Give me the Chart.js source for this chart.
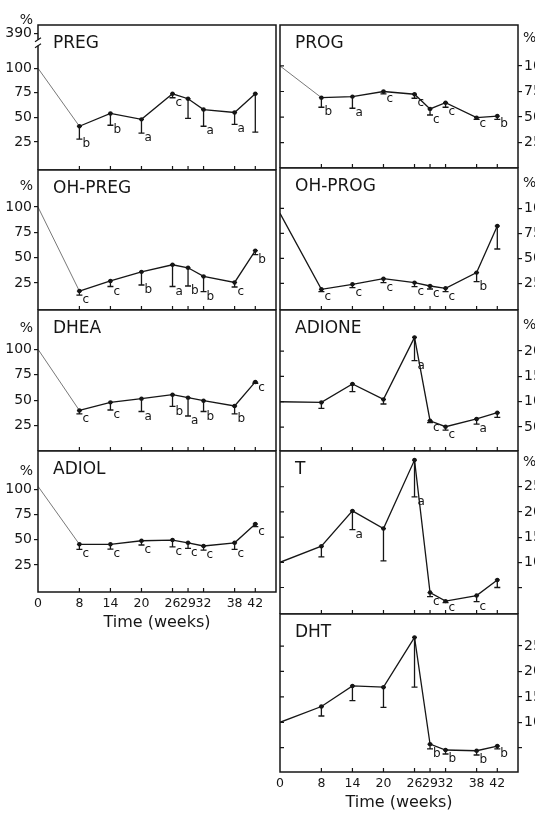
<!DOCTYPE html>
<html>
<head>
<meta charset="utf-8">
<script src="https://cdn.jsdelivr.net/npm/chart.js@4.4.1/dist/chart.umd.min.js"></script>
<style>
  html, body { margin: 0; padding: 0; background: #fff; overflow: hidden; }
  body { width: 535px; height: 813px; position: relative; }
  canvas { position: absolute; }
</style>
</head>
<body>
<script>
// sampling times
var weeks = [0, 8, 14, 20, 26, 29, 32, 38, 42];

// mean (% of initial), lower end of error bar, significance letter
var pregMean = [100, 41, 54, 48, 74, 69, 58, 55, 74];
var pregLow  = [null, 28, 42, 34, 70, 49, 41, 43, 35];
var pregSig  = ['', 'b', 'b', 'a', 'c', '', 'a', 'a', ''];

var ohPregMean = [100, 17, 27, 36, 43, 40, 31.5, 25.5, 57];
var ohPregLow  = [null, 13, 21.5, 23, 21.5, 22, 16.5, 21, 53];
var ohPregSig  = ['', 'c', 'c', 'b', 'a', 'b', 'b', 'c', 'b'];

var dheaMean = [100, 40, 48, 51.6, 55.5, 52.6, 49.6, 44.4, 68];
var dheaLow  = [null, 36.6, 40.5, 39, 44, 34.6, 39, 36.6, 66.7];
var dheaSig  = ['', 'c', 'c', 'a', 'b', 'a', 'b', 'b', 'c'];

var adiolMean = [103, 45.5, 45.5, 49, 49.7, 47, 43.8, 47, 65.6];
var adiolLow  = [null, 40.5, 40.8, 44.8, 43, 41.5, 39.8, 40.5, 63];
var adiolSig  = ['', 'c', 'c', 'c', 'c', 'c', 'c', 'c', 'c'];

var progMean = [100, 69, 70, 75, 72.3, 58, 64, 49.4, 51];
var progLow  = [null, 59.6, 58.6, 72.6, 68.4, 52, 59.6, 47.8, 47.8];
var progSig  = ['', 'b', 'a', 'c', 'c', 'c', 'c', 'c', 'b'];

var ohProgMean = [95, 19, 24, 29.6, 25.7, 22.3, 20, 35.7, 82.3];
var ohProgLow  = [null, 16.7, 20.7, 25.7, 21.7, 19.3, 16.7, 26.7, 59.3];
var ohProgSig  = ['', 'c', 'c', 'c', 'c', 'c', 'c', 'b', ''];

var adioneMean = [100, 98.7, 135, 104.6, 227, 62.5, 50.7, 66, 78.3];
var adioneLow  = [null, 87, 120, 95.5, 181, 58.6, 44, 56, 69];
var adioneSig  = ['', '', '', '', 'a', 'c', 'c', 'a', ''];

var tMean = [100, 132, 202, 167, 303, 40, 23, 34, 65];
var tLow  = [null, 111, 165, 103, 230, 32, 20, 22, 50];
var tSig  = ['', '', 'a', '', 'a', 'c', 'c', 'c', ''];

var dhtMean = [100, 131, 171.5, 169, 267, 57, 45.5, 44, 53.3];
var dhtLow  = [null, 112.4, 142.5, 129.5, 169, 47.5, 37.6, 35.6, 47.5];
var dhtSig  = ['', '', '', '', '', 'b', 'b', 'b', 'b'];

// y tick values and their labels
var pctTicks = [25, 50, 75, 100];
var pctTickLabels = ['25', '50', '75', '100'];
var pregTicks = [25, 50, 75, 100, 135];
var pregTickLabels = ['25', '50', '75', '100', '390'];
var adioneTicks = [50, 100, 150, 200];
var adioneTickLabels = ['50', '100', '150', '200'];
var highTicks = [50, 100, 150, 200, 250];
var highTickLabels = ['', '100', '150', '200', '250'];

var fontFamily = "'DejaVu Sans', 'Liberation Sans', sans-serif";
var ink = '#161616';

var panels = [
  { name: 'PREG', mean: pregMean, low: pregLow, sig: pregSig, ticks: pregTicks, labels: pregTickLabels,
    left: true, top: 25, bottom: 170, yMin: -3.5, yMax: 144, pct: 149, thin: true, brk: 126 },
  { name: 'OH-PREG', mean: ohPregMean, low: ohPregLow, sig: ohPregSig, ticks: pctTicks, labels: pctTickLabels,
    left: true, top: 170, bottom: 310, yMin: -1.7, yMax: 136.6, pct: 120.4, thin: true },
  { name: 'DHEA', mean: dheaMean, low: dheaLow, sig: dheaSig, ticks: pctTicks, labels: pctTickLabels,
    left: true, top: 310, bottom: 451, yMin: 0.3, yMax: 138.5, pct: 120.6, thin: true },
  { name: 'ADIOL', mean: adiolMean, low: adiolLow, sig: adiolSig, ticks: pctTicks, labels: pctTickLabels,
    left: true, top: 451, bottom: 592, yMin: -1.8, yMax: 138, pct: 117.5, thin: true, last: true },
  { name: 'PROG', mean: progMean, low: progLow, sig: progSig, ticks: pctTicks, labels: pctTickLabels,
    left: false, top: 25, bottom: 168, yMin: 0.2, yMax: 140, pct: 127, thin: true },
  { name: 'OH-PROG', mean: ohProgMean, low: ohProgLow, sig: ohProgSig, ticks: pctTicks, labels: pctTickLabels,
    left: false, top: 168, bottom: 310, yMin: -1.7, yMax: 140.3, pct: 125 },
  { name: 'ADIONE', mean: adioneMean, low: adioneLow, sig: adioneSig, ticks: adioneTicks, labels: adioneTickLabels,
    left: false, top: 310, bottom: 451, yMin: 2.8, yMax: 281, pct: 251 },
  { name: 'T', mean: tMean, low: tLow, sig: tSig, ticks: highTicks, labels: highTickLabels,
    left: false, top: 451, bottom: 614, yMin: -2.6, yMax: 321, pct: 298 },
  { name: 'DHT', mean: dhtMean, low: dhtLow, sig: dhtSig, ticks: highTicks, labels: highTickLabels,
    left: false, top: 614, bottom: 772, yMin: 2.2, yMax: 313, last: true }
];

// frame, inner ticks, error bars, letters and panel names
var decor = {
  id: 'decor',
  afterDatasetsDraw: function (chart) {
    var p = chart.options.plugins.decor.panel;
    var ctx = chart.ctx, a = chart.chartArea;
    var xs = chart.scales.x, ys = chart.scales.y;
    ctx.save();
    ctx.strokeStyle = ink;
    ctx.fillStyle = ink;

    // error bars
    ctx.lineWidth = 1.3;
    ctx.beginPath();
    weeks.forEach(function (w, i) {
      if (p.low[i] == null) return;
      var px = xs.getPixelForValue(w);
      var pm = ys.getPixelForValue(p.mean[i]);
      var pl = ys.getPixelForValue(p.low[i]);
      ctx.moveTo(px, pm); ctx.lineTo(px, pl);
      ctx.moveTo(px - 3, pl); ctx.lineTo(px + 3, pl);
      ctx.moveTo(px - 2.5, pm); ctx.lineTo(px + 2.5, pm);
    });
    ctx.stroke();

    // letters
    ctx.font = '12px ' + fontFamily;
    ctx.textAlign = 'left';
    ctx.textBaseline = 'middle';
    weeks.forEach(function (w, i) {
      if (!p.sig[i]) return;
      var px = xs.getPixelForValue(w);
      var pl = ys.getPixelForValue(p.low[i]);
      ctx.fillText(p.sig[i], px + 3, pl + 5);
    });

    // frame
    ctx.lineWidth = 1.5;
    ctx.strokeRect(a.left, a.top, a.right - a.left, a.bottom - a.top);

    // inward ticks
    ctx.lineWidth = 1.2;
    ctx.beginPath();
    weeks.forEach(function (w) {
      if (w === 0) return;
      var px = xs.getPixelForValue(w);
      ctx.moveTo(px, a.bottom); ctx.lineTo(px, a.bottom - 4);
    });
    if (!p.left) {
      p.ticks.forEach(function (v) {
        var py = ys.getPixelForValue(v);
        ctx.moveTo(a.left, py); ctx.lineTo(a.left + 4, py);
      });
    }
    ctx.stroke();

    // axis break
    if (p.brk) {
      var pb = ys.getPixelForValue(p.brk);
      ctx.fillStyle = '#fff';
      ctx.fillRect(a.left - 2, pb - 3, 4, 6);
      ctx.fillStyle = ink;
      ctx.beginPath();
      ctx.moveTo(a.left - 3, pb - 1); ctx.lineTo(a.left + 3, pb - 5);
      ctx.moveTo(a.left - 3, pb + 5); ctx.lineTo(a.left + 3, pb + 1);
      ctx.stroke();
    }

    // panel name
    ctx.font = '17px ' + fontFamily;
    ctx.fillText(p.name, a.left + 15, a.top + 19);

    // percent sign over the axis
    if (p.pct) {
      var pp = ys.getPixelForValue(p.pct);
      ctx.font = '14px ' + fontFamily;
      if (p.left) {
        ctx.textAlign = 'right';
        ctx.fillText('%', a.left - 5, pp);
      } else {
        ctx.textAlign = 'left';
        ctx.fillText('%', a.right + 5, pp);
      }
    }
    ctx.restore();
  }
};

panels.forEach(function (p) {
  var axisW = p.left ? 38 : 40;
  var xH = p.last ? 40 : 0;
  var padTop = 15;
  var padLeft = p.left ? 0 : 12;
  var c = document.createElement('canvas');
  c.width = padLeft + 238 + axisW + (p.left ? 4 : 0);
  c.height = padTop + (p.bottom - p.top) + xH;
  c.style.left = (p.left ? 0 : 280 - padLeft) + 'px';
  c.style.top = (p.top - padTop) + 'px';
  document.body.appendChild(c);

  new Chart(c.getContext('2d'), {
    type: 'line',
    data: {
      datasets: [{
        data: weeks.map(function (w, i) { return { x: w, y: p.mean[i] }; }),
        borderColor: ink,
        borderWidth: 1.3,
        pointRadius: function (ctx) { return ctx.dataIndex === 0 ? 0 : 2.2; },
        pointBackgroundColor: ink,
        pointBorderWidth: 0,
        tension: 0,
        segment: {
          borderWidth: function (ctx) { return p.thin && ctx.p0DataIndex === 0 ? 0.8 : 1.3; },
          borderColor: function (ctx) { return p.thin && ctx.p0DataIndex === 0 ? '#555' : ink; }
        }
      }]
    },
    options: {
      responsive: false,
      animation: false,
      events: [],
      layout: { autoPadding: false, padding: { top: padTop, left: padLeft, right: p.left ? 4 : 0, bottom: 0 } },
      plugins: { legend: { display: false }, tooltip: { enabled: false }, decor: { panel: p } },
      scales: {
        x: {
          type: 'linear', min: 0, max: 46,
          afterBuildTicks: function (s) { s.ticks = weeks.map(function (v) { return { value: v }; }); },
          ticks: {
            display: !!p.last, autoSkip: false, maxRotation: 0, padding: 4, color: ink,
            font: { family: fontFamily, size: 12.5 },
            callback: function (v) { return String(v); }
          },
          grid: { display: false, drawTicks: false },
          border: { display: false },
          title: { display: !!p.last, text: 'Time (weeks)', color: ink, padding: 0, font: { family: fontFamily, size: 16 } },
          afterFit: function (s) { s.height = xH; s.paddingLeft = 0; s.paddingRight = 0; }
        },
        y: {
          position: p.left ? 'left' : 'right',
          min: p.yMin, max: p.yMax,
          afterBuildTicks: function (s) { s.ticks = p.ticks.map(function (v) { return { value: v }; }); },
          ticks: {
            padding: 2, color: ink,
            font: { family: fontFamily, size: 14 },
            callback: function (v, i) { return p.labels[i]; }
          },
          grid: { drawOnChartArea: false, drawTicks: true, tickLength: 4, color: ink, lineWidth: 1.2 },
          border: { display: false },
          afterFit: function (s) { s.width = axisW; s.paddingTop = 0; s.paddingBottom = 0; }
        }
      }
    },
    plugins: [decor]
  });
});
</script>
</body>
</html>
